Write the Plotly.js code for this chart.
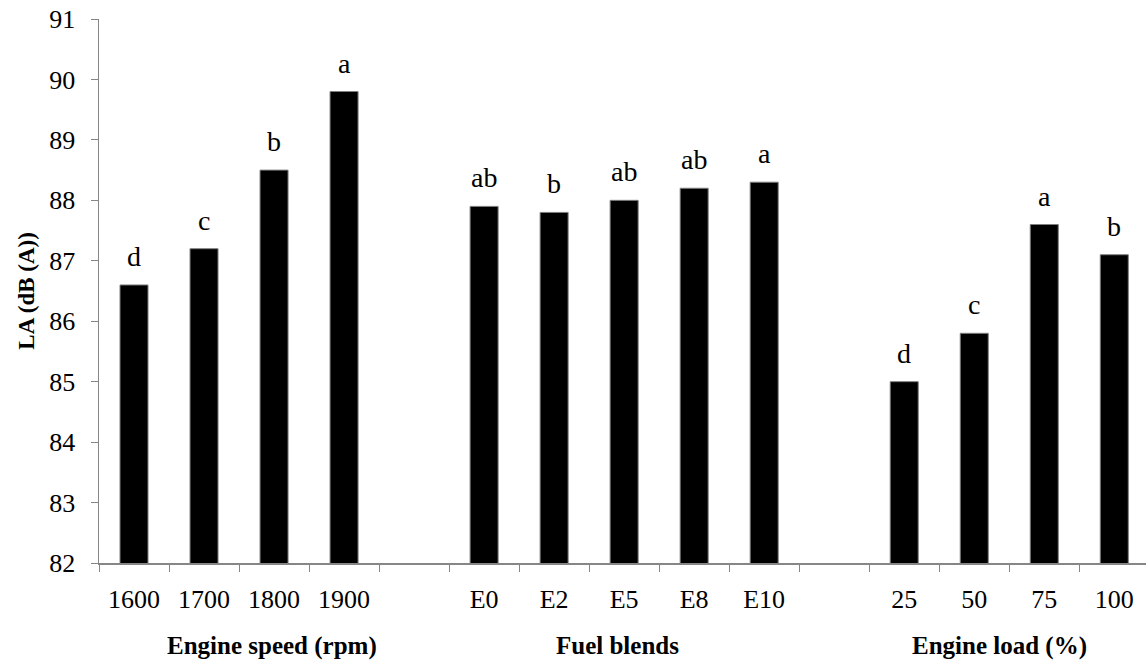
<!DOCTYPE html>
<html>
<head>
<meta charset="utf-8">
<script src="https://cdn.plot.ly/plotly-3.0.1.min.js"></script>
<style>
  html, body { margin: 0; padding: 0; background: #ffffff; }
  #chart { width: 1146px; height: 662px; }
</style>
</head>
<body>
<div id="chart"></div>
<script>
// Categories along the x axis; blank entries leave a gap between the three factor groups.
const categories = ['1600', '1700', '1800', '1900', ' ', 'E0', 'E2', 'E5', 'E8', 'E10', '  ', '25', '50', '75', '100'];
// Mean A-weighted sound level for each level of each factor.
const soundLevel = [86.6, 87.2, 88.5, 89.8, null, 87.9, 87.8, 88.0, 88.2, 88.3, null, 85.0, 85.8, 87.6, 87.1];
// Significance grouping letters shown above the bars.
const groupLetters = ['d', 'c', 'b', 'a', '', 'ab', 'b', 'ab', 'ab', 'a', '', 'd', 'c', 'a', 'b'];
// Factor names written under each group of bars.
const groupTitles = ['Engine speed (rpm)', 'Fuel blends', 'Engine load (%)'];
const groupTitleX = [0.1655, 0.4956, 0.8605];
const yTitle = 'LA (dB (A))';
const yTicks = [82, 83, 84, 85, 86, 87, 88, 89, 90, 91];

const serif = '"Liberation Serif", "Times New Roman", serif';
const axisGrey = '#868686';

const trace = {
  type: 'bar',
  x: categories,
  y: soundLevel,
  width: 0.4,
  marker: { color: '#000000', line: { color: '#7f7f7f', width: 1 } },
  hoverinfo: 'x+y',
  showlegend: false
};

const annotations = [];
categories.forEach((c, i) => {
  if (soundLevel[i] === null || !groupLetters[i]) return;
  // Position by category index so numeric-looking names are not read as values.
  annotations.push({
    x: i, y: soundLevel[i], xref: 'x', yref: 'y',
    text: groupLetters[i], showarrow: false,
    yanchor: 'bottom', xanchor: 'center', yshift: 11,
    font: { family: serif, size: 28, color: '#000000' }
  });
});
groupTitles.forEach((t, i) => {
  annotations.push({
    x: groupTitleX[i], y: 0, xref: 'paper', yref: 'paper',
    text: '<b>' + t + '</b>', showarrow: false,
    xanchor: 'center', yanchor: 'top', yshift: -67,
    font: { family: serif, size: 25, color: '#000000' }
  });
});
// Vertical axis title, set a little left of the tick labels.
annotations.push({
  x: -0.07, y: 0.5, xref: 'paper', yref: 'paper',
  text: '<b>' + yTitle + '</b>', showarrow: false, textangle: -90,
  xanchor: 'center', yanchor: 'middle',
  font: { family: serif, size: 23, color: '#000000' }
});

const layout = {
  width: 1146,
  height: 662,
  margin: { l: 99, r: 0, t: 19, b: 99, pad: 0 },
  paper_bgcolor: '#ffffff',
  plot_bgcolor: '#ffffff',
  bargap: 0.6,
  xaxis: {
    type: 'category',
    categoryorder: 'array',
    categoryarray: categories,
    range: [-0.5, 14.453],
    tickson: 'boundaries',
    ticks: 'outside',
    ticklen: 7,
    tickwidth: 1,
    tickcolor: axisGrey,
    showline: true,
    linecolor: axisGrey,
    linewidth: 1.5,
    showgrid: false,
    zeroline: false,
    automargin: false,
    ticklabelstandoff: 12,
    tickfont: { family: serif, size: 26, color: '#000000' }
  },
  yaxis: {
    range: [82, 91],
    tickvals: yTicks,
    ticktext: yTicks.map(String),
    ticks: 'outside',
    ticklen: 7,
    tickwidth: 1,
    tickcolor: axisGrey,
    showline: true,
    linecolor: axisGrey,
    linewidth: 1.5,
    showgrid: false,
    zeroline: false,
    automargin: false,
    ticklabelstandoff: 10,
    tickfont: { family: serif, size: 26, color: '#000000' }
  },
  annotations: annotations
};

Plotly.newPlot('chart', [trace], layout, { displayModeBar: false, staticPlot: true });
</script>
</body>
</html>
